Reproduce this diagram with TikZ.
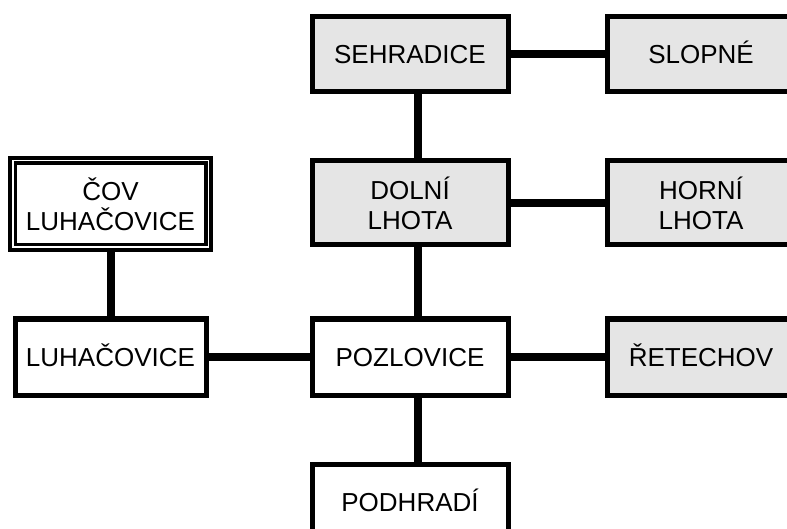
\documentclass[tikz,border=0pt]{standalone}
\usepackage{fontspec}
\setmainfont{Liberation Sans}
\begin{document}
\begin{tikzpicture}[x=1pt,y=-1pt,
  box/.style={draw=black, line width=5pt, fill=white, align=center, inner sep=0pt,
    font=\fontsize{26}{30}\selectfont, text height=18.6pt, text depth=0pt},
  twoline/.style={text height=54pt, text depth=0pt},
  greybox/.style={box, fill=black!10},
  link/.style={line width=8pt, draw=black}]
\useasboundingbox (0,0) rectangle (787,529);
\clip (0,0) rectangle (787,529);

% stations
\node[greybox, minimum width=196pt, minimum height=75pt] (sehradice) at (410,54.5) {SEHRADICE};
\node[greybox, minimum width=188pt, minimum height=75pt] (slopne) at (701,54.5) {SLOPNÉ};
\node[greybox, twoline, minimum width=196pt, minimum height=84pt] (dolni) at (410,203) {DOLNÍ\\LHOTA};
\node[greybox, twoline, minimum width=188pt, minimum height=84pt] (horni) at (701,203) {HORNÍ\\LHOTA};
\node[box, line width=4.5pt, twoline, minimum width=201pt, minimum height=92pt] (cov) at (110.5,204) {ČOV\\LUHAČOVICE};
\draw[line width=3.5pt] ([shift={(7.5,7.5)}]cov.north west) rectangle ([shift={(-7.5,-7.5)}]cov.south east);
\node[box, minimum width=191pt, minimum height=76pt] (luhacovice) at (110.5,357) {LUHAČOVICE};
\node[box, minimum width=196pt, minimum height=76pt] (pozlovice) at (410,357) {POZLOVICE};
\node[greybox, minimum width=188pt, minimum height=76pt] (retechov) at (701,357) {ŘETECHOV};
\node[box, minimum width=196pt, minimum height=76pt] (podhradi) at (410,502) {PODHRADÍ};

% pipes between stations
\draw[link] ([xshift=8pt]sehradice.south) -- ([xshift=8pt]dolni.north);
\draw[link] ([xshift=8pt]dolni.south) -- ([xshift=8pt]pozlovice.north);
\draw[link] ([xshift=8pt]pozlovice.south) -- ([xshift=8pt]podhradi.north);
\draw[link] (sehradice) -- (slopne);
\draw[link] (dolni) -- (horni);
\draw[link] (pozlovice) -- (retechov);
\draw[link] (luhacovice) -- (pozlovice);
\draw[link] (cov) -- (luhacovice);
\end{tikzpicture}
\end{document}
